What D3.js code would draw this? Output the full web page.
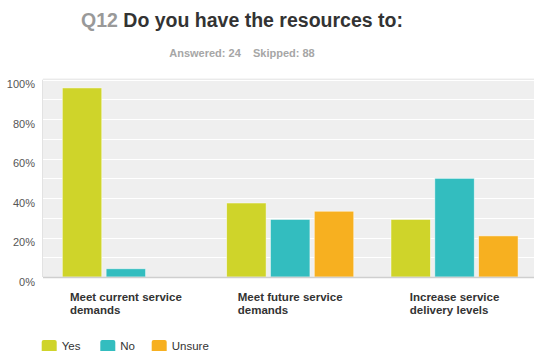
<!DOCTYPE html>
<html>
<head>
<meta charset="utf-8">
<script src="https://cdn.jsdelivr.net/npm/d3@7"></script>
<style>
  html, body { margin: 0; padding: 0; background: #fff; }
  svg { display: block; font-family: "Liberation Sans", Arial, Helvetica, sans-serif; }
</style>
</head>
<body>
<svg id="chart" width="534" height="351"></svg>
<script>
// Survey question results (percent of respondents)
const categories = [
  ["Meet current service", "demands"],
  ["Meet future service", "demands"],
  ["Increase service", "delivery levels"]
];
const seriesNames = ["Yes", "No", "Unsure"];
const seriesColors = ["#cfd42a", "#33bdbf", "#f7b020"];
const yesValues = [95.83, 37.5, 29.17];
const noValues = [4.17, 29.17, 50];
const unsureValues = [0, 33.33, 20.83];
const yTicks = [0, 20, 40, 60, 80, 100];
const gridTicks = [0, 10, 20, 30, 40, 50, 60, 70, 80, 90, 100];
const questionNo = "Q12";
const questionText = "Do you have the resources to:";
const answered = 24;
const skipped = 88;

const seriesValues = [yesValues, noValues, unsureValues];
const catKeys = categories.map(c => c.join(" "));

const svg = d3.select("#chart");

const plot = { left: 43.7, right: 536.7, top: 79.7, bottom: 277 };

const x0 = d3.scaleBand().domain(catKeys).range([plot.left, plot.right]).padding(0);
const x1 = d3.scaleBand().domain(seriesNames).range([0, x0.bandwidth()])
  .paddingInner(0.1).paddingOuter(0.425);
const y = d3.scaleLinear().domain([0, 100]).range([plot.bottom, plot.top]);

// plot background
svg.append("rect")
  .attr("x", 43).attr("y", plot.top)
  .attr("width", 534 - 43).attr("height", plot.bottom - plot.top)
  .attr("fill", "#efefef");
svg.append("line")
  .attr("x1", 43).attr("x2", 534).attr("y1", plot.top - 0.5).attr("y2", plot.top - 0.5)
  .attr("stroke", "#e2e2e2");
svg.append("line")
  .attr("x1", 42.5).attr("x2", 42.5).attr("y1", plot.top).attr("y2", plot.bottom)
  .attr("stroke", "#e2e2e2");

// gridlines
svg.append("g").selectAll("line").data(gridTicks.filter(d => d > 0)).join("line")
  .attr("x1", 43).attr("x2", 534)
  .attr("y1", d => Math.round(y(d)) + 0.5).attr("y2", d => Math.round(y(d)) + 0.5)
  .attr("stroke", "#ffffff").attr("stroke-width", 1.2);

// y axis labels
const yAxis = d3.axisLeft(y).tickValues(yTicks).tickFormat(d => d + "%").tickSize(0).tickPadding(0);
const yg = svg.append("g").attr("transform", "translate(35,0)").call(yAxis);
yg.select(".domain").remove();
yg.selectAll("text")
  .attr("fill", "#555").attr("font-size", "11px")
  .attr("font-family", "Liberation Sans, Arial, sans-serif")
  .attr("dy", "0.75em");

// bars
const groups = svg.append("g").selectAll("g").data(catKeys).join("g")
  .attr("transform", d => `translate(${x0(d)},0)`);
groups.selectAll("rect")
  .data((d, i) => seriesNames.map((s, j) => ({ s, j, v: seriesValues[j][i] })))
  .join("rect")
  .attr("x", d => x1(d.s))
  .attr("width", x1.bandwidth())
  .attr("y", d => y(d.v))
  .attr("height", d => plot.bottom - y(d.v))
  .attr("fill", d => seriesColors[d.j])
  .attr("stroke", "rgba(255,255,255,0.6)")
  .attr("stroke-width", 0.8);

// baseline
svg.append("line")
  .attr("x1", 43).attr("x2", 534).attr("y1", plot.bottom + 0.5).attr("y2", plot.bottom + 0.5)
  .attr("stroke", "#cfcfcf").attr("stroke-width", 1.5);

// category labels: left-aligned lines, block centred on the group
categories.forEach((lines, i) => {
  const cx = x0(catKeys[i]) + x1(seriesNames[0]) +
    (x1(seriesNames[2]) + x1.bandwidth() - x1(seriesNames[0])) / 2;
  const t = svg.append("text")
    .attr("font-size", "11.5px").attr("font-weight", "bold").attr("fill", "#333");
  lines.forEach((ln, k) => {
    t.append("tspan").attr("y", 300.5 + k * 13).text(ln);
  });
  const w = d3.max(t.selectAll("tspan").nodes(), n => n.getComputedTextLength());
  t.selectAll("tspan").attr("x", cx - w / 2);
});

// title
const title = svg.append("text")
  .attr("x", 242).attr("y", 27).attr("text-anchor", "middle")
  .attr("font-size", "19.5px").attr("font-weight", "bold");
title.append("tspan").attr("fill", "#999").text(questionNo + " ");
title.append("tspan").attr("fill", "#333").text(questionText);

// answered / skipped
const sub = svg.append("text")
  .attr("x", 242).attr("y", 56.5).attr("text-anchor", "middle")
  .attr("font-size", "11px").attr("font-weight", "bold").attr("fill", "#a6a6a6")
  .attr("xml:space", "preserve")
  .text(`Answered: ${answered}    Skipped: ${skipped}`);

// legend
const legendX = [41.7, 100.3, 151.7];
const lg = svg.append("g").selectAll("g").data(seriesNames).join("g")
  .attr("transform", (d, i) => `translate(${legendX[i]},340)`);
lg.append("rect")
  .attr("width", 15).attr("height", 13).attr("rx", 2)
  .attr("fill", (d, i) => seriesColors[i]);
lg.append("text")
  .attr("x", 20).attr("y", 10)
  .attr("font-size", "11.5px").attr("fill", "#333")
  .text(d => d);
</script>
</body>
</html>
